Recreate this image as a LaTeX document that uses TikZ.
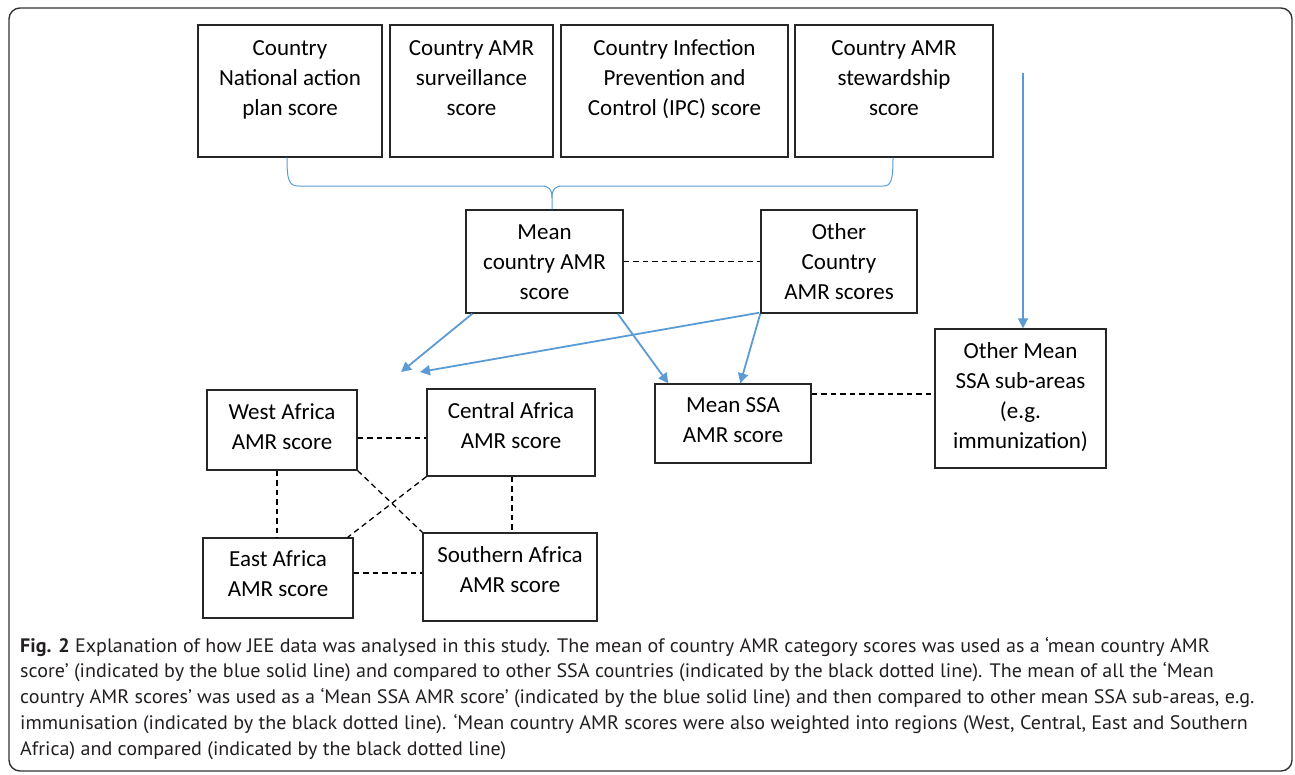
\documentclass[tikz,border=0pt]{standalone}
\usepackage{fontspec}
\newfontfamily\boxfont{Carlito}
\newfontfamily\capfont[FakeStretch=1.03]{PT Sans}
\usetikzlibrary{arrows.meta,calc}
\definecolor{ablue}{RGB}{91,155,213}
\definecolor{capgray}{RGB}{35,31,32}
\begin{document}
\begin{tikzpicture}[x=1pt,y=-1pt,
  box/.style={draw=black!85,line width=1.4pt,inner sep=0pt},
  txt/.style={align=center,inner sep=0pt,font=\boxfont\fontsize{23}{30}\selectfont},
  bluearrow/.style={draw=ablue,line width=1.8pt,-{Triangle[length=10pt,width=10pt]}},
  bracepath/.style={draw=ablue,line width=1pt},
  dashline/.style={draw=black,line width=1.3pt,dash pattern=on 5.5pt off 4pt}
]
\useasboundingbox (0,0) rectangle (1295,774);
\draw[rounded corners=11pt,line width=1.4pt,draw=black!80] (9,8) rectangle (1292,771);

% top boxes
\node[box,minimum width=184,minimum height=132] (b1) at (290,91) {};
\node[txt] (t1) at (290,79) {\strut Country\\National action\\\strut plan score};
\node[box,minimum width=163,minimum height=132] (b2) at (471.5,91) {};
\node[txt] (t2) at (471.5,79) {\strut Country AMR\\surveillance\\\strut score};
\node[box,minimum width=227,minimum height=132] (b3) at (674.5,91) {};
\node[txt] (t3) at (674.5,79) {\strut Country Infection\\Prevention and\\\strut Control (IPC) score};
\node[box,minimum width=198,minimum height=132] (b4) at (894,91) {};
\node[txt] (t4) at (894,79) {\strut Country AMR\\stewardship\\\strut score};

% middle boxes
\node[box,minimum width=157,minimum height=103] (mean) at (544.5,261.5) {};
\node[txt] (tmean) at (544.5,263) {\strut Mean\\country AMR\\\strut score};
\node[box,minimum width=156,minimum height=103] (other) at (839,261.5) {};
\node[txt] (tother) at (839,263) {\strut Other\\Country\\\strut AMR scores};
\node[box,minimum width=171,minimum height=139] (othermean) at (1020.5,398.5) {};
\node[txt] (tothermean) at (1020.5,397.5) {\strut Other Mean\\SSA sub-areas\\(e.g.\\\strut immunization)};
\node[box,minimum width=156,minimum height=79] (meanssa) at (733,423.5) {};
\node[txt] (tmeanssa) at (733,421) {\strut Mean SSA\\\strut AMR score};

% regional boxes
\node[box,minimum width=150,minimum height=80] (west) at (282,430) {};
\node[txt] (twest) at (282,428) {\strut West Africa\\\strut AMR score};
\node[box,minimum width=168,minimum height=87] (central) at (511,432.5) {};
\node[txt] (tcentral) at (511,427) {\strut Central Africa\\\strut AMR score};
\node[box,minimum width=150,minimum height=80] (east) at (278,578) {};
\node[txt] (teast) at (278,575) {\strut East Africa\\\strut AMR score};
\node[box,minimum width=174,minimum height=88] (southern) at (510,577) {};
\node[txt] (tsouthern) at (510,571) {\strut Southern Africa\\\strut AMR score};

% brace
\coordinate (tip) at (552,0);
\draw[bracepath] ($(b1.south)+(-3,0)$) .. controls (287,181) and (289,186) .. (299,186)
  -- (541,186) .. controls (549,186) and (552,189) .. (552,198) -- (tip |- mean.north);
\draw[bracepath] (552,198) .. controls (552,189) and (555,186) .. (563,186)
  -- (883,186) .. controls (891,186) and (893,181) .. ($(b4.south)+(-1,0)$);

% blue arrows
\coordinate (topstart) at (1023,73);
\coordinate (r1) at (401,372);
\coordinate (r2) at (420,372);
\draw[bluearrow] (topstart) -- (topstart |- othermean.north);
\draw[bluearrow] ($(mean.south west)+(7,0)$) -- (r1);
\draw[bluearrow] ($(other.south west)+(-1,-1)$) -- (r2);
\draw[bluearrow] ($(mean.south east)+(-6,0)$) -- ($(meanssa.north west)+(14,0)$);
\draw[bluearrow] ($(other.south west)+(0,0)$) -- ($(meanssa.north west)+(86,0)$);

% dashed comparisons
\coordinate (ms) at ($(meanssa.east)+(0,-29.5)$);
\coordinate (we) at ($(west.east)+(0,8)$);
\coordinate (ws) at ($(west.south)+(-5,0)$);
\coordinate (cs) at ($(central.south)+(1,0)$);
\coordinate (ee) at ($(east.east)+(0,-5)$);
\draw[dashline] (mean.east) -- (other.west);
\draw[dashline] (ms) -- (ms -| othermean.west);
\draw[dashline] (we) -- (we -| central.west);
\draw[dashline] (ws) -- (ws |- east.north);
\draw[dashline] (cs) -- (cs |- southern.north);
\draw[dashline] (ee) -- (ee -| southern.west);
\draw[dashline] (west.south east) -- (southern.north west);
\draw[dashline] (central.south west) -- ($(east.north east)+(-6,0)$);

% caption
\node[anchor=west,align=left,inner sep=0pt,text=capgray,font=\capfont\fontsize{19.5}{25.7}\selectfont] (cap) at (20,698.5)
{\strut\textbf{Fig. 2} Explanation of how JEE data was analysed in this study. The mean of country AMR category scores was used as a ‘mean country AMR\\
score’ (indicated by the blue solid line) and compared to other SSA countries (indicated by the black dotted line). The mean of all the ‘Mean\\
country AMR scores’ was used as a ‘Mean SSA AMR score’ (indicated by the blue solid line) and then compared to other mean SSA sub-areas, e.g.\\
immunisation (indicated by the black dotted line). ‘Mean country AMR scores were also weighted into regions (West, Central, East and Southern\\
\strut Africa) and compared (indicated by the black dotted line)};
\end{tikzpicture}
\end{document}
